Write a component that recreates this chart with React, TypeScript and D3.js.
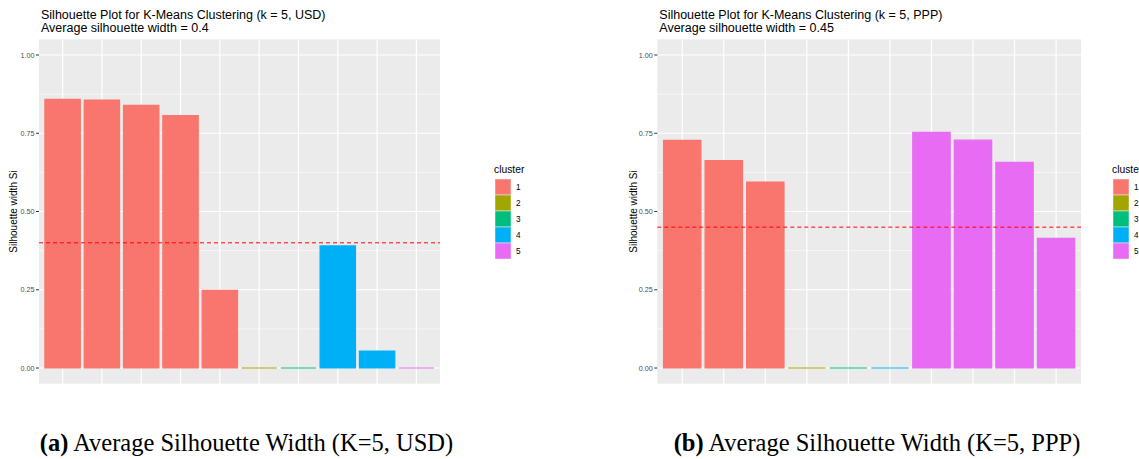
import React from 'react';
import * as d3 from 'd3';

const usdValues = [0.858, 0.856, 0.839, 0.806, 0.248, 0, 0, 0.39, 0.054, 0];
const usdClusters = ['1', '1', '1', '1', '1', '2', '3', '4', '4', '5'];
const pppValues = [0.727, 0.663, 0.594, 0, 0, 0, 0.753, 0.728, 0.657, 0.414];
const pppClusters = ['1', '1', '1', '2', '3', '4', '5', '5', '5', '5'];

const clusterLevels = ['1', '2', '3', '4', '5'];
const clusterColors = ['#F8766D', '#A3A500', '#00BF7D', '#00B0F6', '#E76BF3'];
const yTicks = [0, 0.25, 0.5, 0.75, 1];
const yMinor = [0.125, 0.375, 0.625, 0.875];

const SANS = '"Liberation Sans", Arial, sans-serif';
const SERIF = '"Liberation Serif", "Times New Roman", serif';

const color = d3.scaleOrdinal<string, string>().domain(clusterLevels).range(clusterColors);

function SilPanel(props) {
  const { values, clusters, avg, title, left, right, legendX, yTitleX, caption, tag } = props;
  const y = d3.scaleLinear().domain([0, 1]).range([368, 55]);
  const top = y(1.05);
  const bottom = y(-0.05);
  const ids = values.map((_, i) => String(i));
  const x = d3.scaleBand().domain(ids).range([left, right]).paddingInner(0.1).paddingOuter(0.15);
  const bw = x.bandwidth();

  // a path (not a rect) so that zero-height bars still show their outline
  const barPath = (i: number, v: number) => {
    const p = d3.path();
    const x0 = x(ids[i])!;
    p.moveTo(x0, y(0));
    p.lineTo(x0 + bw, y(0));
    p.lineTo(x0 + bw, y(v));
    p.lineTo(x0, y(v));
    p.closePath();
    return p.toString();
  };

  return (
    <g>
      <text x={left + 2} y={19} fontFamily={SANS} fontSize={12.5} fill="#000">{title}</text>
      <text x={left + 2} y={32} fontFamily={SANS} fontSize={12.5} fill="#000">
        Average silhouette width = {avg}
      </text>

      <rect x={left} y={top} width={right - left} height={bottom - top} fill="#EBEBEB" />
      {yMinor.map((t) => (
        <line key={'m' + t} x1={left} x2={right} y1={y(t)} y2={y(t)} stroke="#fff" strokeWidth={0.6} />
      ))}
      {yTicks.map((t) => (
        <line key={'g' + t} x1={left} x2={right} y1={y(t)} y2={y(t)} stroke="#fff" strokeWidth={1.2} />
      ))}
      {ids.map((id) => (
        <line
          key={'v' + id}
          x1={x(id)! + bw / 2}
          x2={x(id)! + bw / 2}
          y1={top}
          y2={bottom}
          stroke="#fff"
          strokeWidth={1.2}
        />
      ))}

      {values.map((v, i) => (
        <path
          key={'b' + i}
          d={barPath(i, v)}
          fill={color(clusters[i])}
          stroke={color(clusters[i])}
          strokeWidth={1.2}
        />
      ))}

      <line x1={left} x2={right} y1={y(avg)} y2={y(avg)} stroke="#FF0000" strokeWidth={1} strokeDasharray="4,3" />

      {yTicks.map((t) => (
        <g key={'t' + t}>
          <line x1={left - 3} x2={left} y1={y(t)} y2={y(t)} stroke="#333" strokeWidth={1} />
          <text
            x={left - 4.5}
            y={y(t)}
            dy="0.35em"
            textAnchor="end"
            fontFamily={SANS}
            fontSize={7.2}
            fill="#4D4D4D"
          >
            {d3.format('.2f')(t)}
          </text>
        </g>
      ))}

      <text
        transform={`translate(${yTitleX},${(top + bottom) / 2}) rotate(-90)`}
        textAnchor="middle"
        fontFamily={SANS}
        fontSize={10}
        fill="#000"
      >
        Silhouette width Si
      </text>

      <text x={legendX} y={173} fontFamily={SANS} fontSize={10.3} fill="#000">cluster</text>
      {clusterLevels.map((c, i) => (
        <g key={'l' + c}>
          <rect x={legendX + 1} y={179 + i * 16} width={16} height={16} fill={color(c)} stroke="#F2F2F2" strokeWidth={0.5} />
          <text x={legendX + 22} y={179 + i * 16 + 8} dy="0.35em" fontFamily={SANS} fontSize={8.2} fill="#000">
            {c}
          </text>
        </g>
      ))}

      <text x={caption} y={451} textAnchor="middle" fontFamily={SERIF} fontSize={24.5} fill="#000">
        <tspan fontWeight="bold">({tag})</tspan> Average Silhouette Width (K=5, {tag === 'a' ? 'USD' : 'PPP'})
      </text>
    </g>
  );
}

export default function App() {
  return (
    <svg
      width={1139}
      height={459}
      style={{ position: 'absolute', left: 0, top: 0, display: 'block', background: '#fff' }}
    >
      <rect width={1139} height={459} fill="#fff" />
      <SilPanel
        values={usdValues}
        clusters={usdClusters}
        avg={0.4}
        title="Silhouette Plot for K-Means Clustering (k = 5, USD)"
        left={39}
        right={440}
        legendX={494}
        yTitleX={16.5}
        caption={246.5}
        tag="a"
      />
      <SilPanel
        values={pppValues}
        clusters={pppClusters}
        avg={0.45}
        title="Silhouette Plot for K-Means Clustering (k = 5, PPP)"
        left={657.3}
        right={1081}
        legendX={1112}
        yTitleX={636.5}
        caption={877}
        tag="b"
      />
    </svg>
  );
}
